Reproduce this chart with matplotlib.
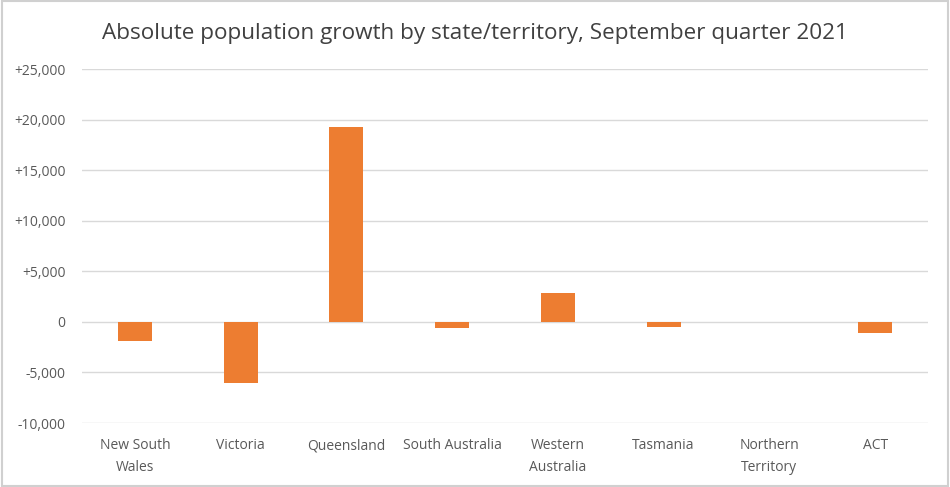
import matplotlib
matplotlib.use("Agg")
import matplotlib.pyplot as plt
from matplotlib.patches import Rectangle
from matplotlib.ticker import FuncFormatter

states = ["New South\nWales", "Victoria", "Queensland", "South Australia",
          "Western\nAustralia", "Tasmania", "Northern\nTerritory", "ACT"]
growth = [-1850, -6000, 19300, -630, 2900, -460, 20, -1120]
yticks = [-10000, -5000, 0, 5000, 10000, 15000, 20000, 25000]

BAR = "#ED7D31"
GRID = "#D9D9D9"
TXT = "#595959"

plt.rcParams["font.family"] = ["Open Sans", "DejaVu Sans"]

fig = plt.figure(figsize=(9.5, 4.87), dpi=100)
ax = fig.add_axes([0.0863, 0.1314, 0.8905, 0.7269])

x = list(range(len(states)))
ax.bar(x, growth, width=0.32, color=BAR, linewidth=0, zorder=3)

ax.set_xlim(-0.5, len(states) - 0.5)
ax.set_ylim(-10000, 25000)
ax.set_yticks(yticks)
ax.yaxis.set_major_formatter(FuncFormatter(
    lambda v, p: "0" if v == 0 else (f"+{v:,.0f}" if v > 0 else f"{v:,.0f}")))
ax.set_xticks(x)
ax.set_xticklabels(states, fontsize=10, color=TXT, linespacing=1.6)
ax.tick_params(axis="y", labelsize=10, colors=TXT, length=0, pad=12)
ax.tick_params(axis="x", length=0, pad=11)
ax.grid(axis="y", color=GRID, linewidth=1, zorder=0)
for s in ax.spines.values():
    s.set_visible(False)

fig.text(0.5, 0.932, "Absolute population growth by state/territory, September quarter 2021",
         ha="center", va="center", fontsize=16.2, color="#404040")

fig.patches.append(Rectangle((0.002, 0.003), 0.996, 0.994, transform=fig.transFigure,
                             fill=False, edgecolor="#D0D0D0", linewidth=1.5))

fig.savefig("out.png", dpi=100)
